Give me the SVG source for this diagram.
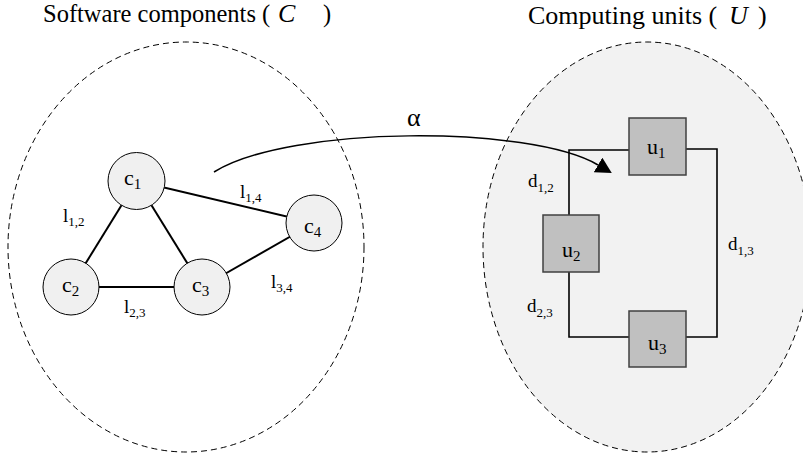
<svg xmlns="http://www.w3.org/2000/svg" width="803" height="459" viewBox="0 0 803 459">
<style>
text{font-family:"Liberation Serif","Times New Roman",serif;fill:#000}
.title{font-size:24.5px}
.title2{font-size:26px}
.node{font-size:22px}
.sub{font-size:15px}
.lab{font-size:19px}
.lsub{font-size:13px}
.region{stroke:#000;stroke-width:1;stroke-dasharray:6,4}
.comp{fill:#f0f0f0;stroke:#000;stroke-width:1}
.unit{fill:#c0c0c0;stroke:#404040;stroke-width:1.5}
.edge{stroke:#000;stroke-width:2;fill:none}
.link{stroke:#000;stroke-width:1.6;fill:none}
</style>
<defs>
<marker id="arr" markerUnits="userSpaceOnUse" viewBox="0 0 16 17" refX="0" refY="8.5" markerWidth="16" markerHeight="17" orient="auto">
<path d="M0,0 L16,8.5 L0,17 z" fill="#000"/>
</marker>
</defs>
<rect width="803" height="459" fill="#fff"/>
<g id="region-C">
<ellipse class="region" cx="186" cy="247" rx="178" ry="205" fill="none"/>
<text class="title" x="43" y="22">Software components (<tspan x="278" font-style="italic" font-size="26px">C</tspan><tspan x="323">)</tspan></text>
</g>
<g id="region-U">
<ellipse class="region" cx="647" cy="247" rx="164" ry="205" fill="#f2f2f2"/>
<text class="title2" x="528" y="24">Computing units (<tspan x="729" font-style="italic" font-size="26px">U</tspan><tspan x="758">)</tspan></text>
</g>
<g id="connectors">
<line class="edge" x1="136.5" y1="181" x2="71" y2="287"/>
<line class="edge" x1="136.5" y1="181" x2="202" y2="287"/>
<line class="edge" x1="71" y1="287" x2="202" y2="287"/>
<line class="edge" x1="136.5" y1="181" x2="314" y2="223"/>
<line class="edge" x1="202" y1="287" x2="314" y2="223"/>
<polyline class="link" points="629,150 569,150 569,215"/>
<polyline class="link" points="686,149 717,149 717,337 686,337"/>
<polyline class="link" points="569,272 569,337 629,337"/>
<path id="alpha-map" d="M214,172 C290,125 530,125 598,165" fill="none" stroke="#000" stroke-width="1.5" marker-end="url(#arr)"/>
<text class="lab" x="63" y="222">l<tspan class="lsub" dy="4">1,2</tspan></text>
<text class="lab" x="240" y="198">l<tspan class="lsub" dy="4">1,4</tspan></text>
<text class="lab" x="124" y="313">l<tspan class="lsub" dy="4">2,3</tspan></text>
<text class="lab" x="271" y="288">l<tspan class="lsub" dy="4">3,4</tspan></text>
<text class="lab" x="528" y="187">d<tspan class="lsub" dy="5">1,2</tspan></text>
<text class="lab" x="728" y="250">d<tspan class="lsub" dy="5">1,3</tspan></text>
<text class="lab" x="527" y="312">d<tspan class="lsub" dy="5">2,3</tspan></text>
<text x="407" y="126" font-size="26px">α</text>
</g>
<g id="c1"><circle class="comp" cx="136.5" cy="181" r="28.5"/><text class="node" x="124" y="185">c<tspan class="sub" dy="4">1</tspan></text></g>
<g id="c2"><circle class="comp" cx="71" cy="287" r="28"/><text class="node" x="62" y="292">c<tspan class="sub" dy="4">2</tspan></text></g>
<g id="c3"><circle class="comp" cx="202" cy="287" r="28"/><text class="node" x="192" y="292">c<tspan class="sub" dy="4">3</tspan></text></g>
<g id="c4"><circle class="comp" cx="314" cy="223" r="28"/><text class="node" x="304" y="233">c<tspan class="sub" dy="4">4</tspan></text></g>
<g id="u1"><rect class="unit" x="629" y="118" width="57" height="57"/><text class="node" x="647" y="154">u<tspan class="sub" dy="4">1</tspan></text></g>
<g id="u2"><rect class="unit" x="543" y="215" width="56" height="57"/><text class="node" x="562" y="257">u<tspan class="sub" dy="4">2</tspan></text></g>
<g id="u3"><rect class="unit" x="629" y="311" width="57" height="56"/><text class="node" x="648" y="350">u<tspan class="sub" dy="4">3</tspan></text></g>
</svg>
